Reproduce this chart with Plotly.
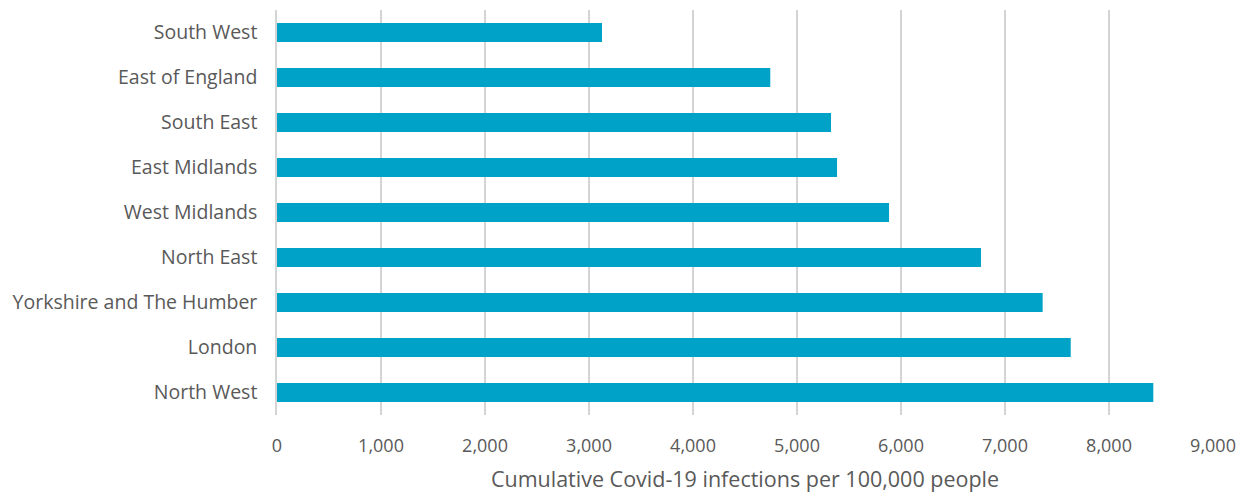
import plotly.graph_objects as go

regions = ["South West", "East of England", "South East", "East Midlands", "West Midlands",
           "North East", "Yorkshire and The Humber", "London", "North West"]
infections = [3125, 4743, 5327, 5385, 5885, 6769, 7362, 7632, 8426]
x_ticks = [0, 1000, 2000, 3000, 4000, 5000, 6000, 7000, 8000, 9000]
x_title = "Cumulative Covid-19 infections per 100,000 people"

fig = go.Figure(go.Bar(
    x=infections, y=regions, orientation="h",
    marker=dict(color="#00A2C8", line=dict(width=0)),
    hoverinfo="x+y",
))

fig.update_layout(
    width=1246, height=498,
    margin=dict(l=269, r=41, t=2, b=91),
    paper_bgcolor="white", plot_bgcolor="white",
    bargap=0.58,
    font=dict(family="Open Sans, Noto Sans, sans-serif", color="#595959", size=19.5),
    showlegend=False,
)
fig.update_xaxes(
    range=[0, 9000], tickvals=x_ticks, tickformat=",",
    showgrid=True, gridcolor="#D4D4D4", gridwidth=1.5,
    zeroline=False, showline=False,
    tickfont=dict(size=18, color="#595959"),
    ticklabelstandoff=18,
    title=dict(text=x_title, font=dict(size=21.5, color="#595959"), standoff=15),
)
fig.update_yaxes(
    categoryorder="array", categoryarray=regions, autorange="reversed",
    showline=True, linecolor="#D4D4D4", linewidth=1.5,
    showgrid=False, ticks="", ticklabelstandoff=14,
    tickfont=dict(size=19.5, color="#595959"),
)

fig.write_html("out.html")
